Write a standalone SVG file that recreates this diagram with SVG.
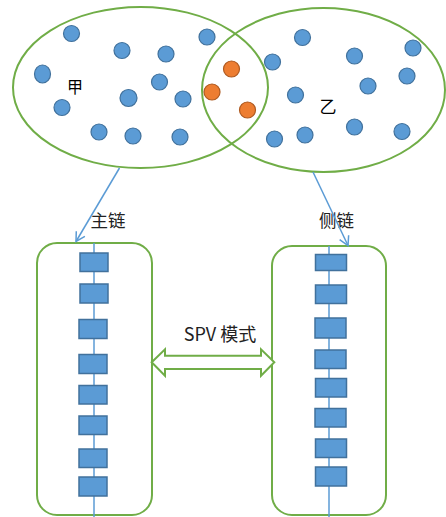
<svg xmlns="http://www.w3.org/2000/svg" width="446" height="517" viewBox="0 0 446 517">
<style>
.set{fill:none;stroke:#70AD47;stroke-width:2}
.dot{fill:#5B9BD5;stroke:#41719C;stroke-width:1.2}
.odot{fill:#ED7D31;stroke:#AE5A21;stroke-width:1.2}
.blk{fill:#5B9BD5;stroke:#41719C;stroke-width:1.5}
.chain{fill:none;stroke:#5B9BD5;stroke-width:1.5}
.box{fill:none;stroke:#70AD47;stroke-width:2}
.lbl{font-family:"Noto Sans CJK SC","Liberation Sans",sans-serif;font-size:16px;fill:#000}
.big{font-size:17.5px;fill:#222}
.conn{fill:none;stroke:#5B9BD5;stroke-width:1.5}
</style>
<defs>
<marker id="ah" markerWidth="12" markerHeight="12" refX="10" refY="6" orient="auto" markerUnits="userSpaceOnUse">
<path d="M1,1 L10,6 L1,11" fill="none" stroke="#5B9BD5" stroke-width="1.5"/>
</marker>
</defs>
<rect width="446" height="517" fill="#fff"/>
<g id="set-jia">
<ellipse class="set" cx="140.5" cy="87.5" rx="127.5" ry="80.5"/>
<circle class="dot" cx="71.5" cy="33.5" r="8"/>
<circle class="dot" cx="122" cy="50.5" r="8"/>
<circle class="dot" cx="166" cy="54" r="8"/>
<circle class="dot" cx="207" cy="37" r="8"/>
<ellipse class="dot" cx="42.5" cy="74" rx="8" ry="9"/>
<circle class="dot" cx="159.5" cy="82" r="8"/>
<circle class="dot" cx="62" cy="107.5" r="8"/>
<circle class="dot" cx="128.5" cy="98" r="8.5"/>
<circle class="dot" cx="183" cy="99" r="8"/>
<circle class="dot" cx="99" cy="132" r="8"/>
<circle class="dot" cx="133" cy="136" r="8"/>
<circle class="dot" cx="180" cy="137" r="8"/>
<text class="lbl" x="75" y="93" text-anchor="middle">甲</text>
</g>
<g id="set-yi">
<ellipse class="set" cx="323.5" cy="90" rx="121.5" ry="82"/>
<circle class="dot" cx="272.5" cy="62" r="8"/>
<circle class="dot" cx="302.5" cy="37.5" r="8"/>
<circle class="dot" cx="354.5" cy="56" r="8"/>
<circle class="dot" cx="413" cy="48" r="8"/>
<circle class="dot" cx="407" cy="76" r="8"/>
<circle class="dot" cx="368" cy="86" r="8"/>
<circle class="dot" cx="295.5" cy="95" r="8"/>
<circle class="dot" cx="354.5" cy="127" r="8"/>
<circle class="dot" cx="402" cy="131.5" r="8"/>
<circle class="dot" cx="305" cy="135" r="8"/>
<circle class="dot" cx="274.5" cy="139" r="8"/>
<text class="lbl" x="328" y="113" text-anchor="middle" style="font-size:17px">乙</text>
</g>
<g id="overlap">
<circle class="odot" cx="231.5" cy="69" r="8"/>
<circle class="odot" cx="212" cy="92" r="8"/>
<circle class="odot" cx="247.5" cy="110" r="8"/>
</g>
<g id="main-chain">
<rect class="box" x="37" y="243" width="115" height="272" rx="20"/>
<line class="chain" x1="94" y1="243" x2="94" y2="517"/>
<rect class="blk" x="80" y="253" width="28" height="18.5"/>
<rect class="blk" x="80" y="284" width="28" height="19"/>
<rect class="blk" x="79" y="319.5" width="28" height="19"/>
<rect class="blk" x="79" y="354.5" width="28" height="19"/>
<rect class="blk" x="79" y="385.5" width="28" height="18.5"/>
<rect class="blk" x="79" y="416" width="28" height="18.5"/>
<rect class="blk" x="79" y="449" width="28" height="18.5"/>
<rect class="blk" x="79" y="477" width="28" height="19"/>
<text class="lbl big" x="108" y="227" text-anchor="middle">主链</text>
</g>
<g id="side-chain">
<rect class="box" x="272" y="246" width="114" height="269" rx="20"/>
<line class="chain" x1="329" y1="246" x2="329" y2="517"/>
<rect class="blk" x="315.5" y="254.5" width="31" height="16"/>
<rect class="blk" x="315.5" y="285" width="31" height="18.5"/>
<rect class="blk" x="315" y="318" width="31" height="20"/>
<rect class="blk" x="315" y="350" width="31" height="18.5"/>
<rect class="blk" x="315.5" y="378.5" width="31" height="18.5"/>
<rect class="blk" x="315" y="408.5" width="31" height="18.5"/>
<rect class="blk" x="315.5" y="439" width="31" height="18.5"/>
<rect class="blk" x="315.5" y="467" width="31" height="19"/>
<text class="lbl big" x="336.5" y="227" text-anchor="middle">侧链</text>
</g>
<g id="spv">
<path d="M151.7,362.3 L165,349.3 L165,355.7 L261,355.7 L261,349.3 L274.3,362.3 L261,375.7 L261,369 L165,369 L165,375.7 Z" fill="#fff" stroke="#70AD47" stroke-width="2" stroke-linejoin="miter"/>
<text class="lbl big" x="220" y="340.5" text-anchor="middle" style="font-size:18px">SPV 模式</text>
</g>
<g id="connectors">
<line class="conn" x1="119.5" y1="168" x2="76" y2="241.5" marker-end="url(#ah)"/>
<line class="conn" x1="313" y1="172" x2="348" y2="245.5" marker-end="url(#ah)"/>
</g>
</svg>
